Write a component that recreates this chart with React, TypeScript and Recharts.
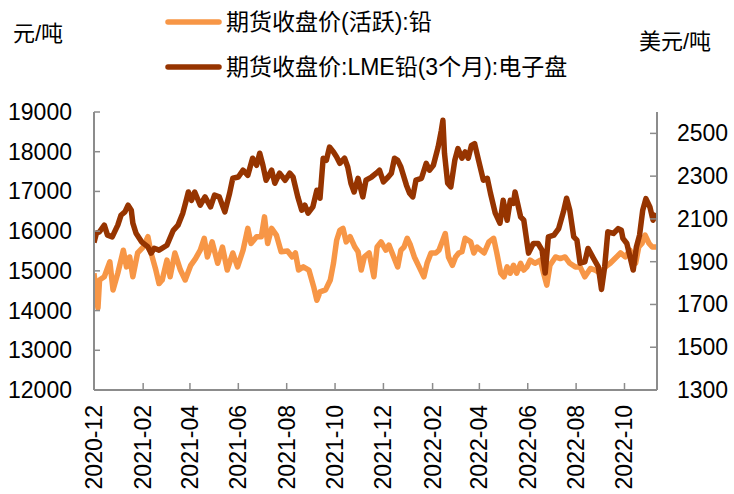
import { Legend, Line, LineChart, XAxis, YAxis } from 'recharts';

const FONT = '"Liberation Sans", Arial, "Noto Sans CJK SC", sans-serif';
const AXIS_COLOR = '#8c8c8c';
const ORANGE = '#F79646';
const BROWN = '#963400';

const shfeName = '期货收盘价(活跃):铅';
const lmeName = '期货收盘价:LME铅(3个月):电子盘';
const leftUnit = '元/吨';
const rightUnit = '美元/吨';

// 沪铅 (元/吨)
const shfeDates = [
  '2020-12-01', '2020-12-06', '2020-12-08', '2020-12-14', '2020-12-21', '2020-12-25', '2020-12-31',
  '2021-01-07', '2021-01-11', '2021-01-15', '2021-01-19', '2021-01-25', '2021-02-01', '2021-02-07',
  '2021-02-11', '2021-02-17', '2021-02-21', '2021-02-25', '2021-03-03', '2021-03-07', '2021-03-13',
  '2021-03-20', '2021-03-26', '2021-04-02', '2021-04-08', '2021-04-14', '2021-04-19', '2021-04-23',
  '2021-04-29', '2021-05-06', '2021-05-12', '2021-05-18', '2021-05-25', '2021-05-31', '2021-06-07',
  '2021-06-13', '2021-06-17', '2021-06-24', '2021-06-30', '2021-07-04', '2021-07-08', '2021-07-13',
  '2021-07-19', '2021-07-25', '2021-08-02', '2021-08-08', '2021-08-12', '2021-08-16', '2021-08-22',
  '2021-08-29', '2021-09-04', '2021-09-08', '2021-09-12', '2021-09-19', '2021-09-25', '2021-09-29',
  '2021-10-03', '2021-10-07', '2021-10-11', '2021-10-15', '2021-10-20', '2021-10-26', '2021-10-30',
  '2021-11-03', '2021-11-07', '2021-11-13', '2021-11-19', '2021-11-23', '2021-11-28', '2021-12-04',
  '2021-12-08', '2021-12-14', '2021-12-19', '2021-12-23', '2021-12-27', '2021-12-31', '2022-01-04',
  '2022-01-09', '2022-01-15', '2022-01-21', '2022-01-25', '2022-01-30', '2022-02-05', '2022-02-09',
  '2022-02-13', '2022-02-17', '2022-02-21', '2022-02-26', '2022-03-02', '2022-03-06', '2022-03-10',
  '2022-03-14', '2022-03-21', '2022-03-25', '2022-03-29', '2022-04-07', '2022-04-13', '2022-04-19',
  '2022-04-23', '2022-04-28', '2022-05-02', '2022-05-06', '2022-05-10', '2022-05-14', '2022-05-18',
  '2022-05-23', '2022-05-27', '2022-05-31', '2022-06-04', '2022-06-10', '2022-06-17', '2022-06-21',
  '2022-06-25', '2022-06-29', '2022-07-06', '2022-07-12', '2022-07-18', '2022-07-24', '2022-07-31',
  '2022-08-06', '2022-08-12', '2022-08-19', '2022-08-25', '2022-08-31', '2022-09-07', '2022-09-13',
  '2022-09-19', '2022-09-26', '2022-10-02', '2022-10-08', '2022-10-15', '2022-10-19', '2022-10-23',
  '2022-10-27', '2022-11-01', '2022-11-05', '2022-11-10',
];
const shfeValues = [
  14940, 14060, 14770, 14850, 15230, 14520, 14940,
  15520, 15100, 15350, 14850, 15450, 15600, 15860,
  15450, 15020, 14680, 14770, 15270, 14850, 15450,
  15020, 14770, 15140, 15310, 15520, 15820, 15350,
  15730, 15190, 15600, 15020, 15450, 15100, 15520,
  16070, 15690, 15860, 15860, 16360, 15690, 16070,
  15900, 15480, 15500, 15350, 15450, 15020, 15100,
  15020, 14600, 14260, 14470, 14520, 14770, 15190,
  15770, 16020, 16070, 15730, 15860, 15600, 15480,
  15020, 15350, 15450, 14850, 15600, 15730, 15520,
  15650, 15350, 15100, 15520, 15600, 15820, 15650,
  15350, 15100, 14850, 15190, 15450, 15450, 15520,
  15730, 15940, 15350, 15140, 15350, 15450, 15480,
  15820, 15730, 15450, 15600, 15450, 15730, 15820,
  15450, 14940, 14850, 15100, 14940, 15140, 14940,
  15190, 15020, 15100, 15270, 15190, 15270, 14940,
  14640, 15140, 15350, 15310, 15350, 15190, 15100,
  15100, 14850, 15060, 15020, 14940, 15100, 15190,
  15310, 15450, 15350, 15520, 15190, 15600, 15690,
  15900, 15690, 15600, 15600,
];

// LME铅 (美元/吨)
const lmeDates = [
  '2020-12-01', '2020-12-04', '2020-12-08', '2020-12-14', '2020-12-18', '2020-12-24', '2020-12-31',
  '2021-01-04', '2021-01-09', '2021-01-13', '2021-01-17', '2021-01-19', '2021-01-23', '2021-01-30',
  '2021-02-07', '2021-02-11', '2021-02-15', '2021-02-21', '2021-03-03', '2021-03-11', '2021-03-17',
  '2021-03-23', '2021-03-28', '2021-03-30', '2021-04-03', '2021-04-07', '2021-04-14', '2021-04-20',
  '2021-04-27', '2021-05-02', '2021-05-08', '2021-05-15', '2021-05-21', '2021-05-25', '2021-06-01',
  '2021-06-07', '2021-06-13', '2021-06-19', '2021-06-24', '2021-06-28', '2021-07-02', '2021-07-06',
  '2021-07-13', '2021-07-17', '2021-07-23', '2021-07-30', '2021-08-05', '2021-08-09', '2021-08-15',
  '2021-08-20', '2021-08-24', '2021-08-28', '2021-09-03', '2021-09-08', '2021-09-12', '2021-09-16',
  '2021-09-20', '2021-09-24', '2021-09-29', '2021-10-03', '2021-10-07', '2021-10-13', '2021-10-17',
  '2021-10-21', '2021-10-25', '2021-10-30', '2021-11-05', '2021-11-09', '2021-11-16', '2021-11-22',
  '2021-11-26', '2021-12-01', '2021-12-07', '2021-12-11', '2021-12-15', '2021-12-19', '2021-12-23',
  '2021-12-30', '2022-01-03', '2022-01-07', '2022-01-11', '2022-01-18', '2022-01-24', '2022-01-28',
  '2022-02-02', '2022-02-08', '2022-02-12', '2022-02-14', '2022-02-16', '2022-02-20', '2022-02-24',
  '2022-03-01', '2022-03-05', '2022-03-10', '2022-03-14', '2022-03-18', '2022-03-22', '2022-03-26',
  '2022-03-31', '2022-04-06', '2022-04-11', '2022-04-15', '2022-04-21', '2022-04-27', '2022-05-01',
  '2022-05-06', '2022-05-10', '2022-05-14', '2022-05-16', '2022-05-23', '2022-05-27', '2022-06-02',
  '2022-06-08', '2022-06-14', '2022-06-19', '2022-06-23', '2022-06-27', '2022-07-04', '2022-07-10',
  '2022-07-16', '2022-07-20', '2022-07-24', '2022-07-29', '2022-08-02', '2022-08-06', '2022-08-12',
  '2022-08-16', '2022-08-23', '2022-08-29', '2022-09-02', '2022-09-06', '2022-09-10', '2022-09-17',
  '2022-09-23', '2022-09-27', '2022-09-29', '2022-10-04', '2022-10-08', '2022-10-12', '2022-10-16',
  '2022-10-20', '2022-10-24', '2022-10-28', '2022-11-02', '2022-11-06', '2022-11-10',
];
const lmeValues = [
  1990, 2033, 2040, 2071, 2024, 2016, 2071,
  2117, 2133, 2164, 2141, 2080, 2033, 1993,
  1969, 1940, 1963, 1954, 1977, 2047, 2071,
  2127, 2197, 2226, 2187, 2226, 2164, 2203,
  2156, 2211, 2203, 2133, 2220, 2290, 2296,
  2328, 2304, 2384, 2351, 2407, 2351, 2281,
  2328, 2267, 2314, 2281, 2314, 2296, 2203,
  2141, 2164, 2127, 2156, 2234, 2197, 2384,
  2374, 2436, 2413, 2390, 2360, 2384, 2343,
  2267, 2226, 2290, 2203, 2281, 2296, 2314,
  2328, 2273, 2296, 2314, 2384, 2374, 2343,
  2258, 2220, 2203, 2281, 2290, 2360, 2328,
  2351, 2436, 2514, 2561, 2407, 2267, 2250,
  2374, 2429, 2384, 2413, 2384, 2444, 2452,
  2374, 2281, 2290, 2220, 2127, 2080, 2187,
  2094, 2187, 2173, 2226, 2110, 2094, 1940,
  1985, 1985, 1954, 1847, 2016, 2024, 2055,
  2133, 2197, 2141, 2016, 2001, 1893, 1899,
  1962, 1915, 1876, 1770, 1876, 2040, 2032,
  2055, 2047, 2009, 1985, 1923, 1861, 1969,
  2024, 2141, 2195, 2156, 2094, 2127,
];

const leftTicks = [12000, 13000, 14000, 15000, 16000, 17000, 18000, 19000];
const rightTicks = [1300, 1500, 1700, 1900, 2100, 2300, 2500];
const monthTicks = [
  '2020-12', '2021-02', '2021-04', '2021-06', '2021-08', '2021-10',
  '2021-12', '2022-02', '2022-04', '2022-06', '2022-08', '2022-10',
];
const xStart = '2020-12-01';
const xEnd = '2022-11-11';

const toTime = (d: string) => Date.parse((d.length === 7 ? d + '-01' : d) + 'T00:00:00Z');
const fmtMonth = (t: number) => {
  const d = new Date(t);
  return `${d.getUTCFullYear()}-${String(d.getUTCMonth() + 1).padStart(2, '0')}`;
};

const shfeData = shfeDates.map((d, i) => ({ t: toTime(d), v: shfeValues[i] }));
const lmeData = lmeDates.map((d, i) => ({ t: toTime(d), v: lmeValues[i] }));

function LeftTick({ x, y, payload }: any) {
  return (
    <g>
      <line x1={x} x2={x + 6} y1={y} y2={y} stroke={AXIS_COLOR} strokeWidth={1.5} />
      <text x={x - 22} y={y} textAnchor="end" dominantBaseline="central" fontSize={23} fill="#000" fontFamily={FONT}>
        {payload.value}
      </text>
    </g>
  );
}

function RightTick({ x, y, payload }: any) {
  return (
    <g>
      <line x1={x - 7} x2={x} y1={y} y2={y} stroke={AXIS_COLOR} strokeWidth={1.5} />
      <text x={x + 20} y={y} textAnchor="start" dominantBaseline="central" fontSize={23} fill="#000" fontFamily={FONT}>
        {payload.value}
      </text>
    </g>
  );
}

function BottomTick({ x, y, payload }: any) {
  return (
    <g>
      <line x1={x} x2={x} y1={y - 7} y2={y} stroke={AXIS_COLOR} strokeWidth={1.5} />
      <text
        transform={`translate(${x},${y + 15}) rotate(-90)`}
        textAnchor="end"
        dominantBaseline="central"
        fontSize={23}
        fill="#000"
        fontFamily={FONT}
      >
        {fmtMonth(payload.value)}
      </text>
    </g>
  );
}

function LegendBox({ payload }: any) {
  const rows = payload || [];
  return (
    <svg width={734} height={90} style={{ display: 'block' }}>
      {rows.map((p: any, i: number) => {
        const cy = 22 + i * 45;
        return (
          <g key={p.value}>
            <line x1={168} x2={219} y1={cy} y2={cy} stroke={p.color} strokeWidth={5.5} strokeLinecap="round" />
            <text x={226} y={cy} dominantBaseline="central" fontSize={23} fill="#000" fontFamily={FONT}>
              {p.value}
            </text>
          </g>
        );
      })}
    </svg>
  );
}

export default function App() {
  return (
    <div style={{ position: 'absolute', left: 0, top: 0, width: 734, height: 494, background: '#fff' }}>
      <LineChart width={734} height={494} margin={{ top: 112, right: 0, bottom: 0, left: 0 }}>
        <XAxis
          dataKey="t"
          type="number"
          domain={[toTime(xStart), toTime(xEnd)]}
          ticks={monthTicks.map(toTime)}
          interval={0}
          height={104}
          tickSize={0}
          tickMargin={0}
          tick={<BottomTick />}
          axisLine={{ stroke: AXIS_COLOR, strokeWidth: 2 }}
          tickLine={false}
          allowDataOverflow
        />
        <YAxis
          yAxisId="left"
          orientation="left"
          domain={[12000, 19000]}
          ticks={leftTicks}
          interval={0}
          width={94}
          tickSize={0}
          tickMargin={0}
          tick={<LeftTick />}
          axisLine={{ stroke: AXIS_COLOR, strokeWidth: 2 }}
          tickLine={false}
          allowDataOverflow
        />
        <YAxis
          yAxisId="right"
          orientation="right"
          domain={[1300, 2600]}
          ticks={rightTicks}
          interval={0}
          width={77}
          tickSize={0}
          tickMargin={0}
          tick={<RightTick />}
          axisLine={{ stroke: AXIS_COLOR, strokeWidth: 2 }}
          tickLine={false}
          allowDataOverflow
        />
        <Legend
          layout="vertical"
          align="center"
          verticalAlign="middle"
          wrapperStyle={{ left: 0, top: 0, width: 734 }}
          content={<LegendBox />}
        />
        <Line
          data={shfeData}
          yAxisId="left"
          dataKey="v"
          name={shfeName}
          type="linear"
          stroke={ORANGE}
          strokeWidth={5.5}
          strokeLinejoin="round"
          dot={false}
          isAnimationActive={false}
        />
        <Line
          data={lmeData}
          yAxisId="right"
          dataKey="v"
          name={lmeName}
          type="linear"
          stroke={BROWN}
          strokeWidth={5.5}
          strokeLinejoin="round"
          dot={false}
          isAnimationActive={false}
        />
      </LineChart>
      <svg width={734} height={60} style={{ position: 'absolute', left: 0, top: 0, pointerEvents: 'none' }}>
        <text x={13} y={33} dominantBaseline="central" fontSize={22} fill="#000" fontFamily={FONT}>
          {leftUnit}
        </text>
        <text x={639} y={41} dominantBaseline="central" fontSize={22} fill="#000" fontFamily={FONT}>
          {rightUnit}
        </text>
      </svg>
    </div>
  );
}
